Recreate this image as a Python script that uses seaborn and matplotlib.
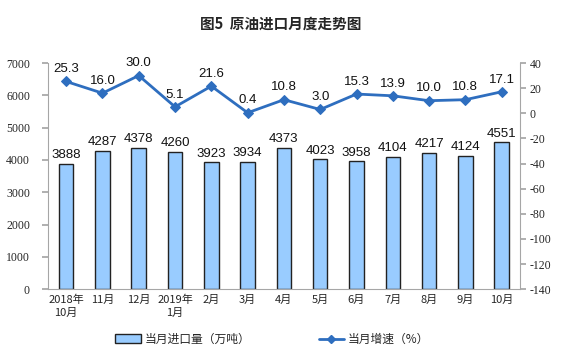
import matplotlib
matplotlib.use("Agg")
import matplotlib.pyplot as plt
import seaborn as sns
import pandas as pd
import numpy as np

months = ["2018年\n10月", "11月", "12月", "2019年\n1月", "2月", "3月", "4月", "5月",
          "6月", "7月", "8月", "9月", "10月"]
volume = [3888, 4287, 4378, 4260, 3923, 3934, 4373, 4023, 3958, 4104, 4217, 4124, 4551]
growth = [25.3, 16.0, 30.0, 5.1, 21.6, 0.4, 10.8, 3.0, 15.3, 13.9, 10.0, 10.8, 17.1]
left_ticks = [0, 1000, 2000, 3000, 4000, 5000, 6000, 7000]
right_ticks = [-140, -120, -100, -80, -60, -40, -20, 0, 20, 40]

sns.set_theme(style="white")
plt.rcParams['font.family'] = ['Noto Sans CJK SC', 'DejaVu Sans']

df = pd.DataFrame({"month": months, "volume": volume, "growth": growth})
df["x"] = np.arange(len(months))

fig = plt.figure(figsize=(5.61, 3.57), dpi=100)
ax = fig.add_axes([0.0856, 0.190, 0.841, 0.6335])

bar_color = "#99CCFF"
line_color = "#2E6EBF"
spine_color = "#A6A6A6"

sns.barplot(data=df, x="month", y="volume", ax=ax, color=bar_color,
            edgecolor="#222222", linewidth=1.0, width=0.4, saturation=1)
ax.set_xlim(-0.5, len(months) - 0.5)
ax.set_ylim(0, 7000)
ax.set_yticks(left_ticks)
ax.set_yticklabels([str(t) for t in left_ticks], family="Liberation Serif", fontsize=8.5)
ax.set_xlabel("")
ax.set_ylabel("")
ax.tick_params(axis="x", length=0, labelsize=8, pad=4)
ax.set_xticks(np.arange(len(months)))
ax.set_xticklabels(months, fontsize=8, linespacing=1.3)
ax.set_xticks(np.arange(len(months) + 1) - 0.5, minor=True)
ax.tick_params(axis="x", which="minor", length=3, color=spine_color, direction="out")
ax.tick_params(axis="y", length=4, color=spine_color, direction="out", pad=9)
for s in ["top", "right"]:
    ax.spines[s].set_visible(False)
for s in ["left", "bottom"]:
    ax.spines[s].set_color(spine_color)
    ax.spines[s].set_linewidth(0.8)

for xi, v in zip(df["x"], volume):
    ax.text(xi, v + 80, str(v), ha="center", va="bottom", fontsize=9.5,
            family="Liberation Sans", color="#111111")

ax2 = ax.twinx()
sns.lineplot(data=df, x="x", y="growth", ax=ax2, color=line_color, linewidth=2,
             marker="D", markersize=5, markeredgecolor=line_color)
ax2.set_ylim(-140, 40)
ax2.set_yticks(right_ticks)
ax2.set_yticklabels([str(t) for t in right_ticks], family="Liberation Serif", fontsize=8.5)
ax2.set_ylabel("")
ax2.set_xlabel("")
ax2.tick_params(axis="y", length=4, color=spine_color, direction="out", pad=3)
for s in ["top", "left", "bottom"]:
    ax2.spines[s].set_visible(False)
ax2.spines["right"].set_color(spine_color)
ax2.spines["right"].set_linewidth(0.8)
ax2.set_xlim(-0.5, len(months) - 0.5)

for xi, g in zip(df["x"], growth):
    ax2.text(xi, g + 5, f"{g:.1f}", ha="center", va="bottom", fontsize=9.5,
             family="Liberation Sans", color="#111111")

fig.text(0.5, 0.935, "图5  原油进口月度走势图", ha="center", va="center",
         fontsize=10.5, fontweight="bold")

from matplotlib.patches import Patch
from matplotlib.lines import Line2D
handles = [Patch(facecolor=bar_color, edgecolor="#222222", linewidth=1.0),
           Line2D([0], [0], color=line_color, linewidth=2, marker="D", markersize=4)]
fig.legend(handles, ["当月进口量（万吨）", "当月增速（%）"], loc="center",
           bbox_to_anchor=(0.485, 0.05), ncol=2, frameon=False, fontsize=8.5,
           handlelength=2.2, columnspacing=5.8, handletextpad=0.3)

fig.savefig("out.png", dpi=100)
